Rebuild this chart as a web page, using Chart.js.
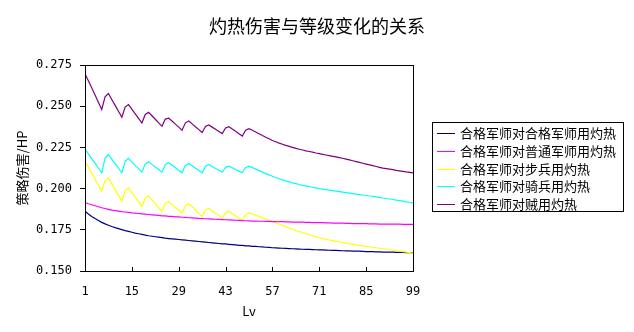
<!DOCTYPE html>
<html>
<head>
<meta charset="utf-8">
<title>灼热伤害与等级变化的关系</title>
<script src="https://cdn.jsdelivr.net/npm/chart.js@4.4.1/dist/chart.umd.min.js"></script>
<style>
  body { margin: 0; background: #fff; }
  #wrap { width: 634px; height: 332px; }
</style>
</head>
<body>
<div id="wrap"><canvas id="chart" width="634" height="332"></canvas></div>
<script>
// Chart text and axis ticks
const chartTitle = '灼热伤害与等级变化的关系';
const xTitle = 'Lv';
const yTitle = '策略伤害/HP';
const xTicks = [1, 15, 29, 43, 57, 71, 85, 99];
const yTicks = [0.150, 0.175, 0.200, 0.225, 0.250, 0.275];

// Levels 1..99
const levels = Array.from({ length: 99 }, (_, i) => i + 1);

const seriesNames = [
  '合格军师对合格军师用灼热',
  '合格军师对普通军师用灼热',
  '合格军师对步兵用灼热',
  '合格军师对骑兵用灼热',
  '合格军师对贼用灼热'
];
const seriesColors = ['#000080', '#ff00ff', '#ffff00', '#00ffff', '#800080'];

// damage ratio per level
const vsStrategist = [
  0.1862, 0.1846, 0.1831, 0.1818, 0.1806, 0.1795, 0.1786, 0.1778, 0.1770, 0.1763,
  0.1757, 0.1751, 0.1745, 0.1740, 0.1735, 0.1730, 0.1726, 0.1722, 0.1718, 0.1714,
  0.1711, 0.1708, 0.1705, 0.1702, 0.1699, 0.1697, 0.1695, 0.1693, 0.1691, 0.1689,
  0.1687, 0.1685, 0.1683, 0.1681, 0.1679, 0.1677, 0.1675, 0.1673, 0.1671, 0.1669,
  0.1667, 0.1665, 0.1664, 0.1662, 0.1660, 0.1658, 0.1656, 0.1655, 0.1653, 0.1652,
  0.1650, 0.1649, 0.1647, 0.1646, 0.1644, 0.1643, 0.1641, 0.1640, 0.1639, 0.1638,
  0.1637, 0.1636, 0.1635, 0.1634, 0.1633, 0.1632, 0.1631, 0.1631, 0.1630, 0.1629,
  0.1628, 0.1628, 0.1627, 0.1626, 0.1625, 0.1625, 0.1624, 0.1623, 0.1622, 0.1622,
  0.1621, 0.1620, 0.1620, 0.1619, 0.1618, 0.1618, 0.1617, 0.1616, 0.1616, 0.1615,
  0.1615, 0.1614, 0.1614, 0.1613, 0.1613, 0.1613, 0.1612, 0.1612, 0.1612
];
const vsCommonStrategist = [
  0.1915, 0.1908, 0.1902, 0.1896, 0.1890, 0.1884, 0.1879, 0.1874, 0.1869, 0.1866,
  0.1863, 0.1860, 0.1858, 0.1856, 0.1853, 0.1851, 0.1849, 0.1847, 0.1845, 0.1843,
  0.1841, 0.1839, 0.1837, 0.1835, 0.1834, 0.1832, 0.1831, 0.1829, 0.1828, 0.1826,
  0.1825, 0.1823, 0.1822, 0.1821, 0.1819, 0.1818, 0.1817, 0.1816, 0.1815, 0.1814,
  0.1813, 0.1812, 0.1811, 0.1810, 0.1809, 0.1808, 0.1807, 0.1806, 0.1805, 0.1804,
  0.1803, 0.1803, 0.1802, 0.1802, 0.1801, 0.1801, 0.1800, 0.1800, 0.1799, 0.1799,
  0.1798, 0.1798, 0.1797, 0.1797, 0.1796, 0.1796, 0.1795, 0.1795, 0.1794, 0.1794,
  0.1793, 0.1793, 0.1792, 0.1792, 0.1791, 0.1791, 0.1790, 0.1790, 0.1789, 0.1789,
  0.1788, 0.1788, 0.1787, 0.1787, 0.1787, 0.1786, 0.1786, 0.1786, 0.1785, 0.1785,
  0.1785, 0.1784, 0.1784, 0.1784, 0.1784, 0.1783, 0.1783, 0.1783, 0.1783
];
const vsInfantry = [
  0.2167, 0.2130, 0.2094, 0.2057, 0.2021, 0.1984, 0.2049, 0.2065, 0.2030, 0.1994,
  0.1959, 0.1923, 0.1988, 0.2004, 0.1976, 0.1948, 0.1920, 0.1892, 0.1944, 0.1955,
  0.1932, 0.1909, 0.1885, 0.1862, 0.1911, 0.1920, 0.1903, 0.1885, 0.1868, 0.1850,
  0.1896, 0.1908, 0.1889, 0.1870, 0.1850, 0.1831, 0.1871, 0.1880, 0.1865, 0.1850,
  0.1836, 0.1821, 0.1854, 0.1862, 0.1848, 0.1835, 0.1821, 0.1808, 0.1843, 0.1852,
  0.1845, 0.1838, 0.1830, 0.1823, 0.1815, 0.1808, 0.1801, 0.1793, 0.1785, 0.1777,
  0.1769, 0.1761, 0.1753, 0.1746, 0.1739, 0.1732, 0.1726, 0.1720, 0.1714, 0.1708,
  0.1702, 0.1697, 0.1692, 0.1688, 0.1684, 0.1680, 0.1676, 0.1672, 0.1669, 0.1666,
  0.1662, 0.1659, 0.1656, 0.1653, 0.1650, 0.1647, 0.1644, 0.1641, 0.1638, 0.1635,
  0.1632, 0.1629, 0.1626, 0.1623, 0.1620, 0.1617, 0.1614, 0.1611, 0.1608
];
const vsCavalry = [
  0.2240, 0.2211, 0.2182, 0.2154, 0.2125, 0.2096, 0.2185, 0.2207, 0.2179, 0.2151,
  0.2124, 0.2096, 0.2166, 0.2183, 0.2162, 0.2141, 0.2121, 0.2100, 0.2150, 0.2163,
  0.2147, 0.2131, 0.2116, 0.2100, 0.2146, 0.2157, 0.2142, 0.2127, 0.2111, 0.2096,
  0.2141, 0.2152, 0.2138, 0.2124, 0.2110, 0.2096, 0.2136, 0.2146, 0.2134, 0.2122,
  0.2111, 0.2099, 0.2129, 0.2136, 0.2126, 0.2116, 0.2106, 0.2096, 0.2128, 0.2136,
  0.2127, 0.2118, 0.2109, 0.2100, 0.2091, 0.2083, 0.2075, 0.2067, 0.2060, 0.2053,
  0.2047, 0.2041, 0.2035, 0.2030, 0.2025, 0.2020, 0.2016, 0.2012, 0.2008, 0.2004,
  0.2000, 0.1997, 0.1994, 0.1991, 0.1988, 0.1985, 0.1982, 0.1979, 0.1976, 0.1973,
  0.1970, 0.1967, 0.1964, 0.1961, 0.1958, 0.1955, 0.1953, 0.1950, 0.1947, 0.1943,
  0.1940, 0.1937, 0.1934, 0.1930, 0.1927, 0.1924, 0.1920, 0.1917, 0.1913
];
const vsBandit = [
  0.2697, 0.2655, 0.2612, 0.2568, 0.2524, 0.2480, 0.2557, 0.2577, 0.2541, 0.2505,
  0.2469, 0.2433, 0.2495, 0.2510, 0.2482, 0.2454, 0.2426, 0.2398, 0.2450, 0.2463,
  0.2442, 0.2421, 0.2399, 0.2378, 0.2422, 0.2428, 0.2410, 0.2391, 0.2373, 0.2354,
  0.2399, 0.2410, 0.2393, 0.2375, 0.2358, 0.2340, 0.2377, 0.2386, 0.2373, 0.2360,
  0.2347, 0.2334, 0.2368, 0.2376, 0.2362, 0.2348, 0.2333, 0.2319, 0.2355, 0.2364,
  0.2354, 0.2344, 0.2333, 0.2322, 0.2312, 0.2302, 0.2292, 0.2284, 0.2276, 0.2269,
  0.2262, 0.2256, 0.2250, 0.2244, 0.2239, 0.2234, 0.2229, 0.2225, 0.2221, 0.2216,
  0.2212, 0.2208, 0.2204, 0.2200, 0.2196, 0.2192, 0.2188, 0.2184, 0.2179, 0.2174,
  0.2169, 0.2164, 0.2159, 0.2154, 0.2149, 0.2144, 0.2139, 0.2134, 0.2129, 0.2124,
  0.2121, 0.2118, 0.2115, 0.2111, 0.2108, 0.2105, 0.2101, 0.2098, 0.2095
];

const seriesValues = [vsStrategist, vsCommonStrategist, vsInfantry, vsCavalry, vsBandit];

const cjkFont = '"Noto Sans CJK SC", "Noto Sans", sans-serif';
const numFont = '"DejaVu Sans Mono", monospace';

// plot frame, inner x ticks, title and boxed legend
const framePlugin = {
  id: 'frame',
  afterDraw(chart) {
    const { ctx, chartArea: a, scales } = chart;
    ctx.save();
    ctx.strokeStyle = '#000';
    ctx.lineWidth = 1;
    ctx.strokeRect(Math.round(a.left) + 0.5, Math.round(a.top) + 0.5,
      Math.round(a.right - a.left), Math.round(a.bottom - a.top));

    ctx.beginPath();
    xTicks.forEach(v => {
      const x = Math.round(scales.x.getPixelForValue(v)) + 0.5;
      ctx.moveTo(x, a.bottom);
      ctx.lineTo(x, a.bottom - 4);
    });
    ctx.stroke();

    ctx.fillStyle = '#000';
    ctx.font = '18px ' + cjkFont;
    ctx.textAlign = 'center';
    ctx.textBaseline = 'middle';
    ctx.fillText(chartTitle, 317, 26);

    // legend
    const lx = 432, ly = 122, lw = 191, lh = 89;
    ctx.strokeRect(lx + 0.5, ly + 0.5, lw, lh);
    ctx.font = '13px ' + cjkFont;
    ctx.textAlign = 'left';
    chart.data.datasets.forEach((ds, i) => {
      const y = Math.round(ly + 11 + i * 17.8) + 0.5;
      ctx.strokeStyle = ds.borderColor;
      ctx.beginPath();
      ctx.moveTo(437, y);
      ctx.lineTo(455, y);
      ctx.stroke();
      ctx.fillStyle = '#000';
      ctx.fillText(ds.label, 460, y);
    });
    ctx.restore();
  }
};

new Chart(document.getElementById('chart'), {
  type: 'line',
  data: {
    labels: levels,
    datasets: seriesValues.map((vals, i) => ({
      label: seriesNames[i],
      data: vals,
      borderColor: seriesColors[i],
      backgroundColor: seriesColors[i],
      borderWidth: 1.2,
      pointRadius: 0,
      tension: 0,
      order: i === 0 ? 1 : 0
    }))
  },
  options: {
    responsive: false,
    animation: false,
    layout: { padding: { top: 65, right: 221, bottom: 0, left: 0 } },
    plugins: {
      legend: { display: false },
      tooltip: { enabled: false }
    },
    scales: {
      x: {
        type: 'linear',
        min: 1,
        max: 99,
        afterBuildTicks: axis => { axis.ticks = xTicks.map(v => ({ value: v })); },
        afterFit: axis => { axis.height = 61; },
        grid: { display: false },
        border: { display: false },
        ticks: {
          color: '#000',
          font: { family: numFont, size: 12 },
          padding: 6,
          maxRotation: 0,
          autoSkip: false,
          callback: v => String(v)
        },
        title: {
          display: true,
          text: xTitle,
          color: '#000',
          font: { family: cjkFont, size: 13 },
          padding: { top: 0, bottom: 13 }
        }
      },
      y: {
        min: 0.15,
        max: 0.275,
        afterBuildTicks: axis => { axis.ticks = yTicks.map(v => ({ value: v })); },
        afterFit: axis => { axis.width = 85; },
        grid: { drawOnChartArea: false, color: '#000', tickLength: 5 },
        border: { display: false },
        ticks: {
          color: '#000',
          font: { family: numFont, size: 12 },
          padding: 8,
          callback: v => v.toFixed(3)
        },
        title: {
          display: true,
          text: yTitle,
          color: '#000',
          font: { family: cjkFont, size: 13 },
          padding: { top: 14, bottom: 0 }
        }
      }
    }
  },
  plugins: [framePlugin]
});
</script>
</body>
</html>
